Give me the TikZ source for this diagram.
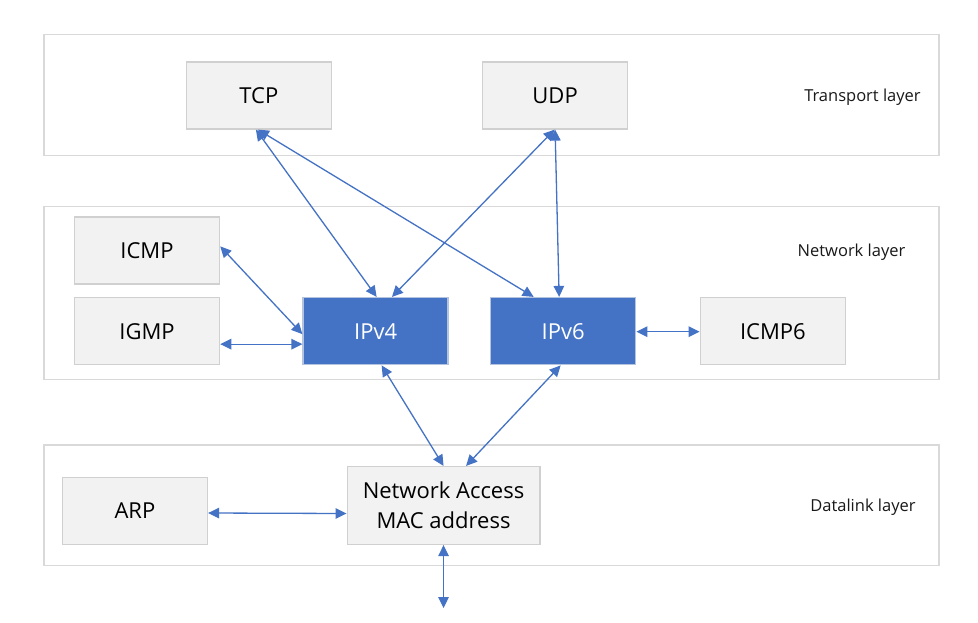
\documentclass[tikz,border=0pt]{standalone}
\usepackage{fontspec}
\setmainfont{Open Sans}
\usetikzlibrary{arrows.meta,calc}
\definecolor{arrblue}{HTML}{4472C4}
\definecolor{boxfill}{HTML}{F2F2F2}
\definecolor{boxline}{HTML}{D0D0D0}
\definecolor{layline}{HTML}{D9D9D9}
\definecolor{ipline}{HTML}{B4C3DE}
\tikzset{
  layerbox/.style={draw=layline, line width=1.5pt, fill=white, minimum width=895pt, inner sep=0pt},
  protobox/.style={draw=boxline, line width=1.5pt, fill=boxfill, minimum width=145pt, minimum height=67pt, inner sep=0pt,
    font=\fontsize{22}{30.3}\selectfont, text height=15.7pt, text depth=0pt, align=center},
  ipbox/.style={protobox, draw=ipline, fill=arrblue, text=white},
  laylabel/.style={font=\fontsize{16.5}{20}\selectfont, text height=11.8pt, text depth=0pt, inner sep=0pt, text=black!90},
  biarrow/.style={draw=arrblue, line width=1.3pt, {Triangle[length=11pt,width=10.5pt]}-{Triangle[length=11pt,width=10.5pt]}}
}
\begin{document}
\begin{tikzpicture}[x=1pt,y=-1pt]
\useasboundingbox[fill=white] (0,0) rectangle (978,622);
% layers
\node[layerbox, minimum height=121pt] (tl) at (491.4,95.2) {};
\node[layerbox, minimum height=172.6pt] (nl) at (491.4,293) {};
\node[layerbox, minimum height=120.7pt] (dl) at (491.4,505.35) {};
\node[laylabel] (tlt) at (862.5,95.6) {Transport layer};
\node[laylabel] (nlt) at (851.5,250.6) {Network layer};
\node[laylabel] (dlt) at (863,505.6) {Datalink layer};
% boxes
\node[protobox] (tcp) at (258.9,95.35) {TCP};
\node[protobox] (udp) at (555.1,95.35) {UDP};
\node[protobox] (icmp) at (147,250.35) {ICMP};
\node[protobox] (igmp) at (147,331.15) {IGMP};
\node[ipbox] (ipv4) at (375.65,331.15) {IPv4};
\node[ipbox] (ipv6) at (563.15,331.15) {IPv6};
\node[protobox] (icmp6) at (772.85,331.15) {ICMP6};
\node[protobox] (arp) at (134.9,511) {ARP};
\node[protobox, minimum width=192.5pt, minimum height=77.6pt, text height=46pt] (na) at (443.55,505.5) {Network Access\\MAC address};
\coordinate (wire) at (443.55,608);
% connectors
\draw[biarrow] ([xshift=-3pt]tcp.south) -- ([xshift=1pt]ipv4.north);
\draw[biarrow] ([xshift=-1pt]tcp.south) -- ([xshift=-29.5pt]ipv6.north);
\draw[biarrow] ([xshift=-0.5pt]udp.south) -- ([xshift=16.3pt]ipv4.north);
\draw[biarrow] ([xshift=0pt]udp.south) -- ([xshift=-4pt]ipv6.north);
\draw[biarrow] ([yshift=4pt]icmp.east) -- ([yshift=-3pt]ipv4.west);
\draw[biarrow] ([yshift=-13pt]igmp.east) -- ([yshift=-13pt]ipv4.west);
\draw[biarrow] ([yshift=-0.5pt]ipv6.east) -- ([yshift=-0.5pt]icmp6.west);
\draw[biarrow] ([xshift=6pt]ipv4.south) -- ([xshift=0pt]na.north);
\draw[biarrow] ([xshift=-2.5pt]ipv6.south) -- ([xshift=22.5pt]na.north);
\draw[biarrow] ([yshift=-2pt]arp.east) -- ([yshift=-8pt]na.west);
\draw[biarrow] (na.south) -- (wire);
\end{tikzpicture}
\end{document}
